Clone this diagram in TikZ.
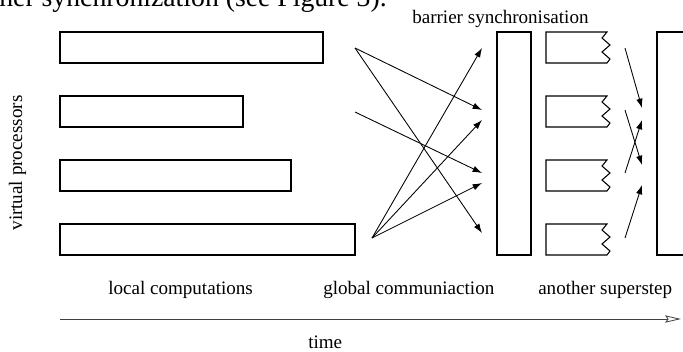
\documentclass[tikz,border=0pt]{standalone}
\usepackage{fontspec}
\setmainfont{Liberation Serif}
\usetikzlibrary{arrows.meta}
\newcommand\zigbox[2]{\draw[box] (546,#1) -- (546,#2) -- (607,#2) -- ++(3,-4) -- ++(-8,-7) -- ++(8,-7) -- ++(-8,-7) -- (607,#1) -- cycle;}
\begin{document}
\begin{tikzpicture}[x=0.75pt,y=-0.75pt,
  box/.style={draw, line width=0.8pt},
  msg/.style={line width=0.65pt, -{Latex[length=7pt,width=4.8pt]}},
  lbl/.style={inner sep=0pt, font=\fontsize{14.3}{17}\selectfont, anchor=base west},
  axis/.style={draw=black!75, line width=0.6pt, -{Stealth[open,length=12pt,width=5.5pt,inset=2pt]}}
]
\useasboundingbox (0,0) rectangle (683,351);
\clip (0,0) rectangle (683,351);
% cut body text at the top
\node[inner sep=0pt, anchor=base east, font=\fontsize{20.8}{24}\selectfont] (body) at (387,6) {her synchronization (see Figure 3).};
% local computation boxes
\draw[box] (60,32) rectangle (323,63);
\draw[box] (60,96) rectangle (243,127);
\draw[box] (60,160) rectangle (291,191);
\draw[box] (60,224) rectangle (355,255);
% barrier and next superstep
\draw[box] (497,32) rectangle (531,255);
\draw[box] (657,32) rectangle (700,255);
\zigbox{32}{63}
\zigbox{96}{127}
\zigbox{160}{191}
\zigbox{224}{255}
% communication endpoints
\coordinate (s1) at (355,48);
\coordinate (s2) at (355,112);
\coordinate (s4) at (372,238);
\coordinate (t1) at (482,48);
\coordinate (t2) at (482,110);
\coordinate (t3) at (482,120);
\coordinate (t4) at (482,173);
\coordinate (t5) at (482,183);
\coordinate (t6) at (482,233);
\draw[msg] (s1) -- (t2);
\draw[msg] (s1) -- (t6);
\draw[msg] (s2) -- (t4);
\draw[msg] (s4) -- (t1);
\draw[msg] (s4) -- (t3);
\draw[msg] (s4) -- (t5);
% second superstep communication
\coordinate (u1) at (625,48);
\coordinate (u2) at (625,110);
\coordinate (u3) at (625,173);
\coordinate (u4) at (625,238);
\coordinate (v1) at (642,108);
\coordinate (v2) at (642,120);
\coordinate (v3) at (642,165);
\coordinate (v4) at (642,185);
\draw[msg] (u1) -- (v1);
\draw[msg] (u2) -- (v3);
\draw[msg] (u3) -- (v2);
\draw[msg] (u4) -- (v4);
% labels
\node[lbl] (barrier) at (412,23) {barrier synchronisation};
\node[lbl, rotate=90, anchor=base] (vp) at (22,163) {virtual processors};
\node[lbl] (local) at (108,294) {local computations};
\node[lbl] (global) at (323,294) {global communiaction};
\node[lbl] (another) at (538,294) {another superstep};
\node[lbl] (time) at (308,348) {time};
% time axis
\coordinate (a0) at (60,319);
\coordinate (a1) at (681,319);
\draw[axis] (a0) -- (a1);
\end{tikzpicture}
\end{document}
